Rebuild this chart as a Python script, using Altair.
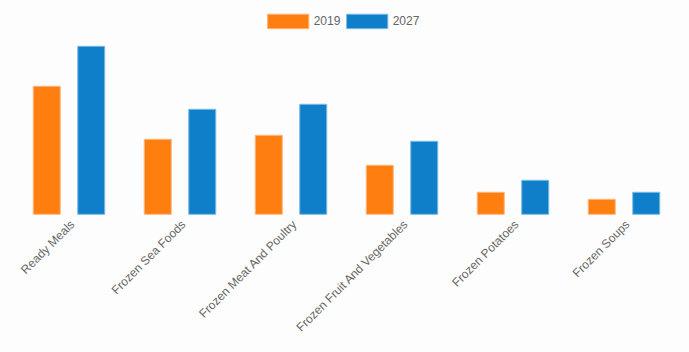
import altair as alt
import pandas as pd

categories = ["Ready Meals", "Frozen Sea Foods", "Frozen Meat And Poultry",
              "Frozen Fruit And Vegetables", "Frozen Potatoes", "Frozen Soups"]
years = ["2019", "2027"]
values_2019 = [12.8, 7.5, 7.9, 4.9, 2.2, 1.5]
values_2027 = [16.8, 10.5, 11.0, 7.3, 3.4, 2.2]

rows = []
for c, a, b in zip(categories, values_2019, values_2027):
    rows.append({"category": c, "year": "2019", "value": a})
    rows.append({"category": c, "year": "2027", "value": b})
df = pd.DataFrame(rows)

fill_colors = ["#fe7f10", "#0e7fc8"]
stroke_colors = ["#ffb57c", "#7cbbe6"]

chart = alt.Chart(df).mark_bar(strokeWidth=1).encode(
    x=alt.X("category:N", sort=categories, title=None,
            scale=alt.Scale(paddingInner=0.356, paddingOuter=0.178),
            axis=alt.Axis(labelAngle=-45, labelFontSize=12, labelColor="#666666",
                          labelFont="Liberation Sans", ticks=False, domain=False,
                          labelPadding=4, grid=False)),
    xOffset=alt.XOffset("year:N", sort=years,
                        scale=alt.Scale(paddingInner=0.393, paddingOuter=0)),
    y=alt.Y("value:Q", axis=None, scale=alt.Scale(domain=[0, 17.4], nice=False)),
    color=alt.Color("year:N", sort=years, title=None,
                    scale=alt.Scale(domain=years, range=fill_colors),
                    legend=alt.Legend(orient="none", legendX=253.2, legendY=-40.5,
                                      direction="horizontal",
                                      symbolType="M-1,-0.35L1,-0.35L1,0.35L-1,0.35Z",
                                      symbolSize=1700, symbolStrokeWidth=1,
                                      labelFontSize=12, labelColor="#666666",
                                      labelFont="Liberation Sans",
                                      labelOffset=4, columnPadding=3, padding=0)),
    stroke=alt.Stroke("year:N", sort=years, title=None,
                      scale=alt.Scale(domain=years, range=stroke_colors)),
).properties(
    width=666, height=174,
    background="#fdfdfd",
    padding={"left": 13.5, "top": 40.3, "right": 9.5, "bottom": 137.7},
    autosize=alt.AutoSizeParams(type="none"),
).configure_view(stroke=None)

chart.save("out.html", embed_options={"renderer": "svg", "actions": False})
